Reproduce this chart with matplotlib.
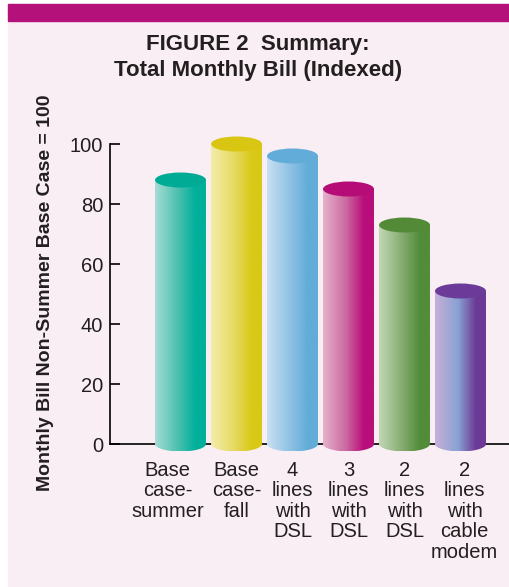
"""Figure 2 summary: total monthly bill (indexed), cylinder bars."""

import numpy as np
import matplotlib
matplotlib.use("Agg")
import matplotlib.pyplot as plt
import matplotlib.transforms as mtransforms
from matplotlib.colors import LinearSegmentedColormap
from matplotlib.patches import Ellipse, PathPatch, Rectangle
from matplotlib.path import Path

categories = [
    "Base\ncase-\nsummer",
    "Base\ncase-\nfall",
    "4\nlines\nwith\nDSL",
    "3\nlines\nwith\nDSL",
    "2\nlines\nwith\nDSL",
    "2\nlines\nwith\ncable\nmodem",
]
values = [88, 100, 96, 85, 73, 51]
y_ticks = [0, 20, 40, 60, 80, 100]

# gradient stops per bar: light left side -> saturated right side
light_colors = ["#a6dcd4", "#f3ecaa", "#c8e0f2", "#e4b2cc", "#c2d8b4", "#c6b0d8"]
mid_colors = ["#4cc0b0", "#e6da64", "#90c2e4", "#cc6aa0", "#86ac70", "#8aa2d4"]
dark_colors = ["#00b09a", "#d9c816", "#62acd8", "#b80e7a", "#528c3a", "#6c3a96"]
top_colors = ["#00ab96", "#d8c612", "#62acda", "#b50c78", "#528a38", "#6c3a98"]

plt.rcParams["font.family"] = ["Liberation Sans", "DejaVu Sans"]
TEXT = "#231f20"
W, H = 509, 587

fig = plt.figure(figsize=(W / 100, H / 100), dpi=100, facecolor="white")
# pink panel and magenta header strip
fig.patches.append(Rectangle((8 / W, 0), 1, (H - 4) / H, transform=fig.transFigure,
                             color="#f9eef4", zorder=-2))
fig.patches.append(Rectangle((8 / W, (H - 21) / H), 1, 17 / H, transform=fig.transFigure,
                             color="#b5117a", zorder=-1))

ax = fig.add_axes([110 / W, 128 / H, 399 / W, 327 / H])
ax.patch.set_visible(False)

bar_w = 0.91
ry = 2.5
x = np.arange(len(values))

for i, v in enumerate(values):
    x0, x1 = i - bar_w / 2, i + bar_w / 2
    theta = np.linspace(np.pi, 2 * np.pi, 60)
    bottom = np.column_stack([i + bar_w / 2 * np.cos(theta), ry * np.sin(theta)])
    verts = np.vstack([[x0, v], bottom, [x1, v], [x0, v]])
    clip = PathPatch(Path(verts, closed=True), transform=ax.transData,
                     facecolor="none", edgecolor="none")
    ax.add_patch(clip)

    cmap = LinearSegmentedColormap.from_list(
        f"bar{i}", [(0, light_colors[i]), (0.45, mid_colors[i]),
                    (0.8, dark_colors[i]), (1, dark_colors[i])])
    grad = np.linspace(0, 1, 256).reshape(1, -1)
    im = ax.imshow(grad, cmap=cmap, extent=[x0, x1, -ry, v], aspect="auto",
                   interpolation="bilinear", zorder=3)
    im.set_clip_path(clip)

    ax.add_patch(Ellipse((i, v), bar_w, 2 * ry, facecolor=top_colors[i],
                         edgecolor="none", zorder=4))

ax.set_xlim((110 - 180.5) / 56, (509 - 180.5) / 56)
ax.set_ylim(-5, 104)

for side in ["top", "right"]:
    ax.spines[side].set_visible(False)
ax.spines["bottom"].set_position(("data", 0))
ax.spines["left"].set_bounds(0, 100)
ax.spines["left"].set_linewidth(1.2)
ax.spines["bottom"].set_linewidth(1.2)

ax.set_yticks(y_ticks)
ax.tick_params(axis="y", direction="in", length=7.2, width=1.2, pad=5,
               labelsize=14.5, labelcolor=TEXT)
ax.set_xticks(x, categories)
ax.tick_params(axis="x", length=0, pad=12, labelsize=14.5, labelcolor=TEXT)
shifts = [-13, 0, 0, 0, 0, 4]
for lab, dx in zip(ax.get_xticklabels(), shifts):
    lab.set_linespacing(1.1)
    lab.set_transform(lab.get_transform()
                      + mtransforms.ScaledTranslation(dx / 100, 0, fig.dpi_scale_trans))

fig.text(258 / W, 1 - 50 / H, "FIGURE 2  Summary:", ha="center", va="baseline",
         fontsize=16, fontweight="bold", color=TEXT)
fig.text(258 / W, 1 - 76 / H, "Total Monthly Bill (Indexed)", ha="center",
         va="baseline", fontsize=16, fontweight="bold", color=TEXT)
fig.text(46 / W, 1 - 293 / H, "Monthly Bill Non-Summer Base Case = 100",
         rotation=90, ha="center", va="center", fontsize=14,
         fontweight="bold", color=TEXT)

fig.savefig("out.png", dpi=100, facecolor=fig.get_facecolor())
